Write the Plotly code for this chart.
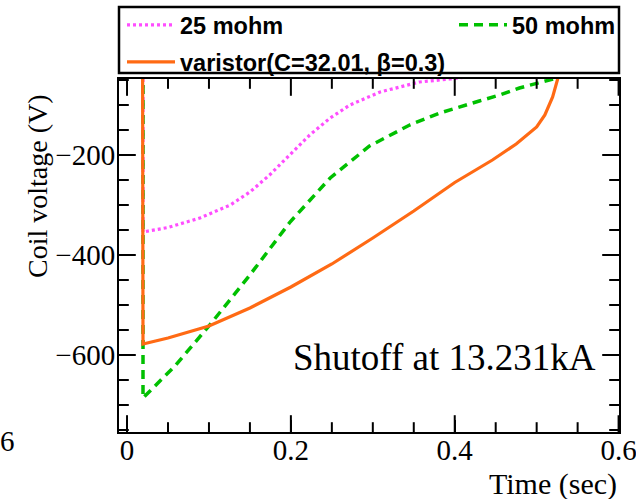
import plotly.graph_objects as go

# ---- data ----
t_25 = [0.0195, 0.0195, 0.05, 0.089, 0.126, 0.150, 0.174, 0.199, 0.223, 0.248, 0.272, 0.309, 0.357, 0.394, 0.41]
v_25 = [0, -354, -345, -326, -300, -274, -240, -200, -160, -126, -100, -74, -54, -48, -45]

t_50 = [0.0195, 0.0195, 0.0585, 0.101, 0.150, 0.199, 0.248, 0.296, 0.345, 0.382, 0.430, 0.455, 0.479, 0.500, 0.52]
v_50 = [0, -686, -622, -540, -440, -334, -246, -182, -140, -116, -92, -80, -66, -56, -48]

t_var = [0.019, 0.0195, 0.05, 0.10, 0.15, 0.20, 0.25, 0.30, 0.35, 0.40, 0.446, 0.475, 0.50, 0.51, 0.5195, 0.524, 0.527]
v_var = [0, -578, -566, -542, -506, -464, -418, -366, -312, -255, -210, -178, -144, -120, -84, -56, -40]

names = ["25 mohm", "50 mohm", "varistor(C=32.01, \u03b2=0.3)"]
colors = ["#ff4dff", "#00c000", "#ff6a14"]

x_major = [0, 0.2, 0.4, 0.6]
x_minor = [0.05, 0.1, 0.15, 0.25, 0.3, 0.35, 0.45, 0.5, 0.55]
y_major = [-600, -400, -200]
y_minor = [-750, -700, -650, -550, -500, -450, -350, -300, -250, -150, -100, -50]
x_range = [-0.0098, 0.6005]
y_range = [-754, -48]

W, H = 636, 499
L, R, T, B = 119, 17, 79, 67
pw, ph = W - L - R, H - T - B


def px_x(p):
    return (p - L) / pw


def px_y(p):
    return (H - B - p) / ph


fig = go.Figure()
fig.add_trace(go.Scatter(x=t_25, y=v_25, mode="lines", name=names[0],
                         line=dict(color=colors[0], width=3.2, dash="3px,3px"),
                         legend="legend"))
fig.add_trace(go.Scatter(x=t_50, y=v_50, mode="lines", name=names[1],
                         line=dict(color=colors[1], width=3.5, dash="9px,6px"),
                         legend="legend2"))
fig.add_trace(go.Scatter(x=t_var, y=v_var, mode="lines", name=names[2],
                         line=dict(color=colors[2], width=3.2),
                         legend="legend3"))

# inward tick marks on all four sides: line markers centred on the frame,
# the outer half is clipped away by the plot area
def tick_trace(xs, ys, symbol, size):
    return go.Scatter(x=xs, y=ys, mode="markers", showlegend=False, hoverinfo="skip",
                      cliponaxis=True,
                      marker=dict(symbol=symbol, size=size, color="black",
                                  line=dict(width=2, color="black")))


for vals, size in [(x_major, 24), (x_minor, 14)]:
    for edge in y_range:
        fig.add_trace(tick_trace(vals, [edge] * len(vals), "line-ns", size))
for vals, size in [(y_major, 24), (y_minor, 14)]:
    for edge in x_range:
        fig.add_trace(tick_trace([edge] * len(vals), vals, "line-ew", size))

leg_font = dict(family="Liberation Sans, Arial", size=23.5, color="black", weight="bold")
leg_common = dict(bgcolor="rgba(0,0,0,0)", borderwidth=0, font=leg_font,
                  xanchor="left", yanchor="middle", itemwidth=48)

serif_font = dict(family="Liberation Serif, Times New Roman", size=29, color="black")

fig.update_layout(
    template="none",
    width=W, height=H,
    margin=dict(l=L, r=R, t=T, b=B, autoexpand=False),
    paper_bgcolor="white", plot_bgcolor="white",
    showlegend=True,
    legend=dict(x=px_x(122), y=px_y(25), **leg_common),
    legend2=dict(x=px_x(454), y=px_y(25), **leg_common),
    legend3=dict(x=px_x(122), y=px_y(62), **leg_common),
    font=serif_font,
)

base = dict(showline=True, linewidth=2, linecolor="black", mirror=True,
            ticks="inside", ticklen=12, tickwidth=2, tickcolor="black",
            showgrid=False, zeroline=False, tickmode="array")

fig.update_layout(
    xaxis=dict(range=x_range, tickvals=x_major, ticktext=[str(v) for v in x_major],
               ticklabeloverflow="allow", tickfont=serif_font, ticklabelstandoff=-9, **base),
    yaxis=dict(range=y_range, tickvals=y_major, tickfont=serif_font,
               ticklabelstandoff=-4, **base),
)

# legend frame
fig.add_shape(type="rect", xref="paper", yref="paper",
              x0=0, x1=1.0, y0=px_y(73), y1=px_y(7),
              line=dict(color="black", width=2.5), fillcolor="rgba(0,0,0,0)")

serif = dict(family="Liberation Serif, Times New Roman", color="black")
fig.add_annotation(text="Coil voltage (V)", xref="paper", yref="paper",
                   x=px_x(37), y=px_y(186), textangle=-90, showarrow=False,
                   xanchor="center", yanchor="middle", font=dict(size=28, **serif))
fig.add_annotation(text="Time (sec)", xref="paper", yref="paper",
                   x=px_x(619), y=px_y(484), showarrow=False,
                   xanchor="right", yanchor="middle", font=dict(size=30, **serif))
fig.add_annotation(text="Shutoff at 13.231kA", xref="paper", yref="paper",
                   x=px_x(598), y=px_y(357), showarrow=False,
                   xanchor="right", yanchor="middle", font=dict(size=37, **serif))
fig.add_annotation(text="6", xref="paper", yref="paper",
                   x=px_x(-2), y=px_y(441), showarrow=False,
                   xanchor="left", yanchor="middle", font=dict(size=29, **serif))

fig.write_html("out.html")
